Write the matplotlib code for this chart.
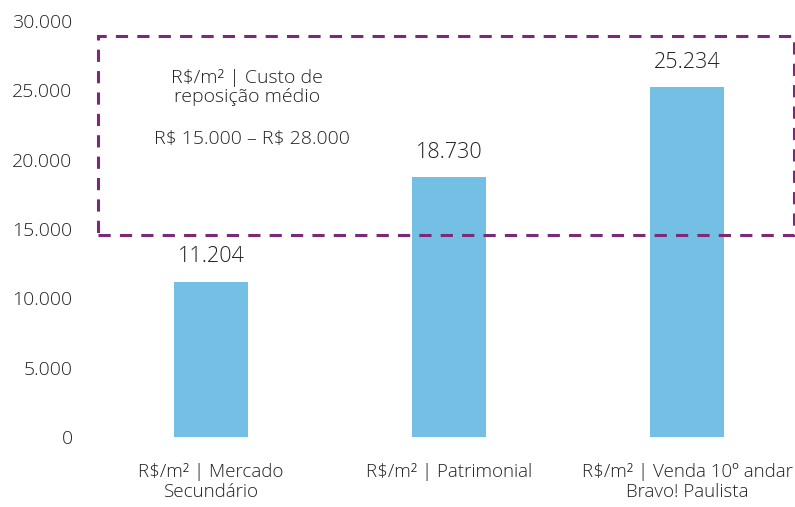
import matplotlib
matplotlib.use("Agg")
import matplotlib.pyplot as plt
from matplotlib.patches import Rectangle

# data
categories = ["R$/m² | Mercado\nSecundário", "R$/m² | Patrimonial",
              "R$/m² | Venda 10º andar\nBravo! Paulista"]
values = [11204, 18730, 25234]
value_labels = ["11.204", "18.730", "25.234"]
y_ticks = [0, 5000, 10000, 15000, 20000, 25000, 30000]
y_tick_labels = ["0", "5.000", "10.000", "15.000", "20.000", "25.000", "30.000"]
range_low, range_high = 14570, 28900
box_title = "R$/m² | Custo de\nreposição médio"
box_range = "R$ 15.000 – R$ 28.000"

bar_color = "#74C0E5"
box_color = "#7B2A78"
text_color = "#222222"

plt.rcParams["font.family"] = ["Open Sans", "DejaVu Sans"]
plt.rcParams["font.weight"] = "light"
plt.rcParams["text.parse_math"] = False

fig = plt.figure(figsize=(7.95, 5.07), dpi=100)
ax = fig.add_axes([92 / 795, 70 / 507, 703 / 795, 416 / 507])

x = list(range(len(categories)))
ax.bar(x, values, width=0.31, color=bar_color, zorder=2)

for xi, v, lab in zip(x, values, value_labels):
    ax.annotate(lab, (xi, v), xytext=(0, 18), textcoords="offset points",
                ha="center", va="center", fontsize=15.5, color=text_color)

ax.set_xlim(-0.5, 2.454)
ax.set_ylim(0, 30000)
ax.set_yticks(y_ticks)
ax.set_yticklabels(y_tick_labels, fontsize=14, color=text_color)
ax.set_xticks(x)
ax.set_xticklabels(categories, fontsize=13.5, color=text_color, linespacing=1.15)
ax.tick_params(axis="both", length=0)
ax.tick_params(axis="y", pad=14)
ax.tick_params(axis="x", pad=19)
for s in ax.spines.values():
    s.set_visible(False)

# dashed box for the replacement-cost range
rect = Rectangle((-0.475, range_low), 2.45 + 0.475, range_high - range_low,
                 fill=False, edgecolor=box_color, linewidth=2.2,
                 linestyle=(0, (4, 3)), clip_on=False, zorder=3)
ax.add_patch(rect)

ax.text(0.15, 25200, box_title, ha="center", va="center", fontsize=14,
        color=text_color, linespacing=1.1)
ax.text(0.17, 21500, box_range, ha="center", va="center", fontsize=14,
        color=text_color)

fig.savefig("out.png", dpi=100)
